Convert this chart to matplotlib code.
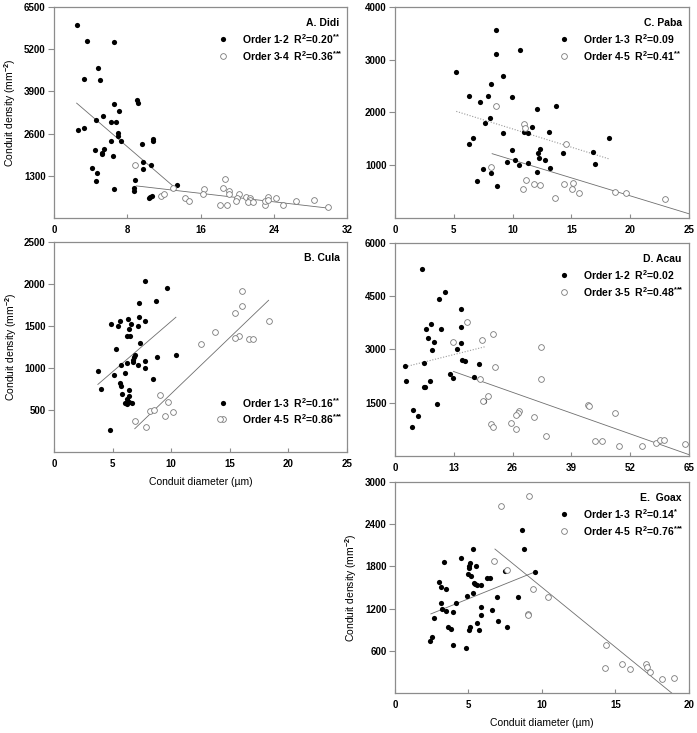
import matplotlib
matplotlib.use("Agg")
import matplotlib.pyplot as plt

plt.rcParams['font.family'] = ['Liberation Sans', 'DejaVu Sans']
plt.rcParams['font.weight'] = 'bold'
plt.rcParams['mathtext.fontset'] = 'custom'
plt.rcParams['mathtext.rm'] = 'Liberation Sans:bold'
plt.rcParams['mathtext.it'] = 'Liberation Sans:bold'
plt.rcParams['mathtext.bf'] = 'Liberation Sans:bold'

# ---- A. Didi ----
a_x1 = [2.47, 3.64, 6.55, 4.8, 3.24, 5.02, 6.55, 9.02, 9.2, 7.09, 5.35, 4.58, 6.18, 6.73,
        2.65, 3.27, 6.95, 6.95, 6.25, 7.31, 9.64, 10.76, 10.76, 5.42, 4.44, 5.24, 5.27,
        6.4, 9.67, 10.55, 4.11, 9.67, 4.69, 4.58, 8.87, 13.45, 6.51, 8.76, 8.76, 10.44,
        10.65, 10.33]
a_y1 = [5934, 5445, 5424, 4619, 4293, 4252, 3507, 3640, 3548, 3283, 3130, 3008, 2967, 2967,
        2712, 2784, 2620, 2518, 2365, 2376, 2264, 2437, 2376, 2131, 2090, 1988, 1958,
        1907, 1733, 1631, 1550, 1499, 1397, 1132, 1173, 1020, 887, 918, 836, 632,
        673, 602]
a_x2 = [8.87, 12.95, 11.64, 11.96, 14.33, 14.69, 16.33, 16.22, 18.65, 18.44, 19.16, 19.13,
        18.18, 18.84, 20.25, 20.0, 19.82, 21.02, 21.38, 21.42, 21.16, 21.71, 23.02, 23.05,
        23.35, 23.38, 24.29, 25.02, 26.44, 28.44, 29.89]
a_y2 = [1631, 938, 663, 734, 602, 530, 887, 734, 1193, 928, 846, 734,
        387, 408, 754, 602, 510, 632, 602, 551, 479, 500, 398, 510,
        652, 561, 602, 387, 510, 551, 326]
a_fit1_x, a_fit1_y = [2.47, 12.98], [3538, 989]
a_fit2_x, a_fit2_y = [8.98, 29.89], [989, 306]

# ---- B. Cula ----
b_x1 = [7.74, 9.61, 8.67, 7.26, 4.88, 5.67, 6.32, 5.44, 7.23, 7.79, 6.55, 7.14, 6.43, 6.24,
        6.52, 7.31, 5.3, 10.4, 8.82, 6.89, 6.8, 6.75, 6.77, 6.24, 7.74, 5.7, 7.2, 7.79,
        3.74, 5.13, 6.07, 8.45, 3.97, 5.61, 5.7, 6.38, 6.38, 5.84, 6.26, 6.41, 6.04, 6.66,
        6.26, 4.76]
b_y1 = [2031, 1952, 1794, 1774, 1529, 1556, 1584, 1501, 1608, 1560, 1521, 1497, 1465, 1378,
        1378, 1295, 1228, 1160, 1125, 1152, 1125, 1093, 1069, 1065, 1081, 1030, 1030, 998,
        966, 915, 939, 867, 748, 816, 784, 737, 669, 685, 626, 598, 586, 582,
        570, 257]
b_x2 = [16.04, 16.04, 15.48, 18.31, 13.75, 15.74, 15.48, 16.64, 16.98, 12.5, 9.07, 9.72,
        8.19, 8.53, 9.5, 10.12, 6.89, 7.85, 14.12]
b_y2 = [1913, 1742, 1659, 1564, 1430, 1386, 1354, 1346, 1346, 1283, 681, 590,
        483, 499, 432, 475, 372, 297, 392]
b_fit1_x, b_fit1_y = [3.74, 10.4], [804, 1604]
b_fit2_x, b_fit2_y = [6.89, 18.31], [277, 1806]

# ---- C. Paba ----
c_x1 = [8.6, 8.55, 10.6, 5.21, 9.2, 8.18, 6.32, 7.92, 7.24, 9.97, 12.05, 13.68, 8.12, 7.69,
        11.62, 10.97, 11.34, 9.15, 13.13, 18.18, 6.64, 6.32, 9.91, 12.34, 12.17, 14.3,
        16.87, 12.28, 12.74, 10.2, 9.54, 10.54, 11.34, 17.0, 7.52, 13.16, 12.11, 8.18,
        7.0, 8.66]
c_y1 = [3569, 3102, 3177, 2767, 2697, 2533, 2306, 2318, 2198, 2293, 2066, 2129, 1895, 1794,
        1718, 1636, 1617, 1604, 1623, 1510, 1516, 1402, 1282, 1314, 1225, 1238,
        1244, 1131, 1105, 1099, 1055, 1011, 1036, 1030, 929, 941, 865, 846,
        707, 613]
c_x2 = [8.58, 10.97, 11.03, 14.5, 8.2, 11.14, 11.82, 10.88, 12.36, 14.33, 15.16, 15.07,
        15.64, 13.59, 18.69, 19.66, 22.93]
c_y2 = [2129, 1775, 1706, 1402, 966, 726, 638, 556, 619, 651, 657, 556,
        474, 385, 499, 474, 354]
c_fit1_x, c_fit1_y = [5.21, 18.23], [2021, 1118]
c_fit2_x, c_fit2_y = [8.26, 25.0], [1219, 80]

# ---- D. Acau ----
d_x1 = [5.98, 11.15, 9.67, 14.7, 14.62, 6.94, 10.19, 7.98, 7.24, 8.64, 14.7, 13.81, 8.2,
        14.77, 15.58, 6.43, 2.29, 18.54, 12.26, 12.92, 17.5, 2.51, 7.83, 6.72, 6.43,
        9.38, 19.72, 3.99, 5.02, 3.77]
d_y1 = [5273, 4614, 4416, 4153, 3644, 3588, 3569, 3729, 3333, 3211, 3192, 3023, 2985,
        2693, 2684, 2627, 2533, 2580, 2316, 2203, 2213, 2100, 2109, 1949, 1940,
        1478, 1554, 1309, 1130, 810]
d_x2 = [16.03, 21.57, 19.28, 12.92, 32.2, 22.16, 18.69, 32.2, 20.61, 19.42, 42.69, 42.84,
        48.67, 27.33, 27.18, 26.8, 30.72, 25.63, 21.12, 21.64, 26.68, 33.46, 44.24, 45.86,
        49.63, 54.65, 57.75, 58.57, 59.45, 64.03]
d_y2 = [3776, 3437, 3267, 3201, 3060, 2505, 2156, 2156, 1685, 1563, 1450, 1412,
        1224, 1281, 1215, 1158, 1102, 932, 913, 829, 772, 565, 433, 414,
        273, 292, 367, 461, 452, 339]
d_fit1_x, d_fit1_y = [2.29, 19.94], [2514, 3079]
d_fit2_x, d_fit2_y = [12.92, 65.0], [2382, 38]

# ---- E. Goax ----
e_x1 = [8.61, 8.75, 5.29, 4.5, 3.32, 5.11, 5.51, 5.06, 5.04, 5.2, 4.97, 6.24, 6.49, 7.46,
        9.51, 5.36, 5.47, 5.85, 5.6, 2.96, 3.16, 3.5, 5.29, 4.88, 6.92, 8.38, 3.14, 4.14,
        5.85, 3.19, 3.5, 3.95, 6.6, 5.88, 2.67, 7.03, 5.58, 3.62, 5.11, 7.59, 3.84, 5.02,
        5.74, 2.53, 2.35, 3.95, 4.84]
e_y1 = [2320, 2050, 2046, 1913, 1866, 1852, 1805, 1805, 1771, 1668, 1686, 1639, 1639, 1729,
        1724, 1568, 1545, 1531, 1531, 1573, 1512, 1474, 1427, 1384, 1370, 1370, 1285, 1275,
        1228, 1190, 1162, 1157, 1176, 1115, 1063, 1030, 992, 940, 945, 945, 907, 893,
        902, 794, 732, 685, 633]
e_x2 = [9.11, 7.23, 6.76, 7.59, 9.38, 10.44, 9.02, 9.02, 14.37, 14.26, 15.41, 16.02, 17.06,
        17.13, 17.38, 18.19, 19.0]
e_y2 = [2797, 2664, 1875, 1743, 1483, 1370, 1120, 1105, 680, 359, 411, 340, 411,
        373, 298, 203, 208]
e_fit1_x, e_fit1_y = [2.44, 9.56], [1124, 1724]
e_fit2_x, e_fit2_y = [6.8, 18.82], [2046, 0]

GRAY = '#8c8c8c'
LINE = '#6e6e6e'
FS = 7.5


def panel(ax, x1, y1, x2, y2, fit1, fit2, dotted1, xmax, xstep, ymax, ystep,
          title, lab1, lab2, legend_top=True):
    ax.scatter(x1, y1, s=14, color='black', linewidths=0, zorder=3)
    ax.scatter(x2, y2, s=17, facecolors='white', edgecolors='#7a7a7a',
               linewidths=0.6, zorder=3)
    if dotted1:
        ax.plot(fit1[0], fit1[1], color='#9a9a9a', lw=0.8, ls=(0, (1, 1.5)), zorder=2)
    else:
        ax.plot(fit1[0], fit1[1], color=LINE, lw=0.6, zorder=2)
    ax.plot(fit2[0], fit2[1], color=LINE, lw=0.6, zorder=2)

    ax.set_xlim(0, xmax)
    ax.set_ylim(0, ymax)
    xt = [i * xstep for i in range(int(round(xmax / xstep)) + 1)]
    ax.set_xticks(xt)
    ax.set_xticklabels([str(int(v)) for v in xt])
    yt = [i * ystep for i in range(1, int(round(ymax / ystep)) + 1)]
    ax.set_yticks(yt)
    ax.set_yticklabels([str(int(v)) for v in yt])
    for s in ax.spines.values():
        s.set_color(GRAY)
        s.set_linewidth(0.9)
    ax.tick_params(axis='x', direction='in', length=3, color=GRAY, pad=5, labelsize=7)
    ax.tick_params(axis='y', direction='out', length=4, color=GRAY, pad=2, labelsize=7)

    ax.text(0.975, 0.925, title, transform=ax.transAxes, ha='right', va='center',
            fontsize=FS)
    if legend_top:
        r1, r2 = 0.848, 0.768
    else:
        r1, r2 = 0.233, 0.157
    ax.scatter([0.575], [r1], transform=ax.transAxes, s=14, color='black',
               linewidths=0, clip_on=False)
    ax.scatter([0.575], [r2], transform=ax.transAxes, s=17, facecolors='white',
               edgecolors='#7a7a7a', linewidths=0.6, clip_on=False)
    ax.text(0.64, r1, lab1, transform=ax.transAxes, ha='left', va='center', fontsize=FS)
    ax.text(0.64, r2, lab2, transform=ax.transAxes, ha='left', va='center', fontsize=FS)


fig = plt.figure(figsize=(6.97, 7.33), dpi=100)
axA = fig.add_axes([0.0775, 0.7026, 0.4204, 0.2879])
axB = fig.add_axes([0.0775, 0.3834, 0.4204, 0.2865])
axC = fig.add_axes([0.5667, 0.7026, 0.4218, 0.2879])
axD = fig.add_axes([0.5667, 0.3779, 0.4218, 0.2906])
axE = fig.add_axes([0.5667, 0.0546, 0.4218, 0.2879])

S2, S3 = r'$^{{*}{*}}$', r'$^{{*}{*}{*}}$'
panel(axA, a_x1, a_y1, a_x2, a_y2, (a_fit1_x, a_fit1_y), (a_fit2_x, a_fit2_y), False,
      32, 8, 6500, 1300, 'A. Didi',
      r'Order 1-2  R$^2$=0.20' + S2, r'Order 3-4  R$^2$=0.36' + S3)
panel(axB, b_x1, b_y1, b_x2, b_y2, (b_fit1_x, b_fit1_y), (b_fit2_x, b_fit2_y), False,
      25, 5, 2500, 500, 'B. Cula',
      r'Order 1-3  R$^2$=0.16' + S2, r'Order 4-5  R$^2$=0.86' + S3, legend_top=False)
panel(axC, c_x1, c_y1, c_x2, c_y2, (c_fit1_x, c_fit1_y), (c_fit2_x, c_fit2_y), True,
      25, 5, 4000, 1000, 'C. Paba',
      r'Order 1-3  R$^2$=0.09', r'Order 4-5  R$^2$=0.41' + S2)
panel(axD, d_x1, d_y1, d_x2, d_y2, (d_fit1_x, d_fit1_y), (d_fit2_x, d_fit2_y), True,
      65, 13, 6000, 1500, 'D. Acau',
      r'Order 1-2  R$^2$=0.02', r'Order 3-5  R$^2$=0.48' + S3)
panel(axE, e_x1, e_y1, e_x2, e_y2, (e_fit1_x, e_fit1_y), (e_fit2_x, e_fit2_y), False,
      20, 5, 3000, 600, 'E.  Goax',
      r'Order 1-3  R$^2$=0.14$^{*}$', r'Order 4-5  R$^2$=0.76' + S3)

for ax in (axA, axB, axE):
    ax.set_ylabel(r'Conduit density (mm$^{-2}$)', fontsize=FS, labelpad=4)
for ax in (axB, axE):
    ax.set_xlabel('Conduit diameter (µm)', fontsize=FS, labelpad=6)

fig.savefig('out.png', dpi=100)
